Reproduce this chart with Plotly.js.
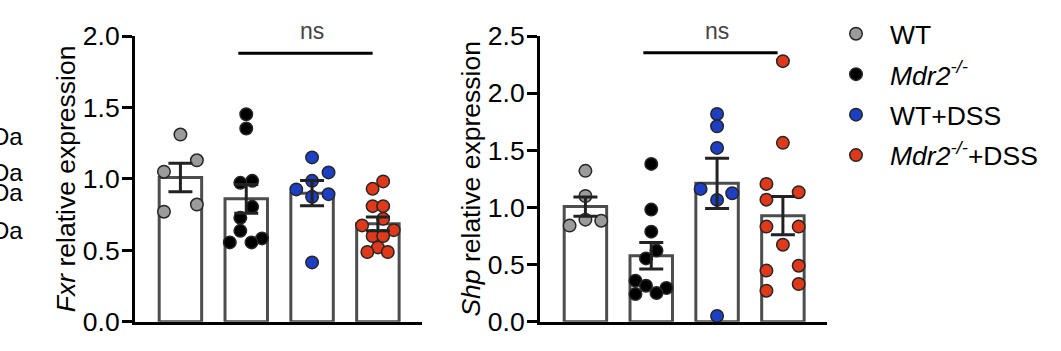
<!DOCTYPE html>
<html>
<head>
<meta charset="utf-8">
<script src="https://cdn.plot.ly/plotly-3.0.1.min.js"></script>
<style>html,body{margin:0;padding:0;background:#fff;}#chart{width:1061px;height:351px;}</style>
</head>
<body>
<div id="chart"></div>
<script>
// ---- data ----
const groups = ['WT', '<i>Mdr2</i><sup><i>-/-</i></sup>', 'WT+DSS', '<i>Mdr2</i><sup><i>-/-</i></sup>+DSS'];
const groupPos = [0, 1, 2, 3];

// Fxr panel
const fxrMean = [1.01, 0.86, 0.90, 0.685];
const fxrSem  = [0.10, 0.10, 0.088, 0.048];
const fxrWT        = [1.31, 1.13, 1.05, 0.82, 0.77];
const fxrWTOff     = [0, 0.25, -0.25, 0.25, -0.25];
const fxrMdr2      = [1.452, 1.352, 0.986, 0.972, 0.804, 0.727, 0.636, 0.583, 0.555, 0.555];
const fxrMdr2Off   = [0, 0, 0.09, -0.09, 0.09, -0.09, -0.09, 0.24, 0.08, -0.25];
const fxrDss       = [1.15, 1.045, 0.986, 0.926, 0.893, 0.874, 0.415];
const fxrDssOff    = [0, 0.25, 0, -0.24, 0.25, 0, 0];
const fxrMdr2Dss   = [0.982, 0.93, 0.809, 0.809, 0.72, 0.674, 0.641, 0.6, 0.6, 0.52, 0.488, 0.488];
const fxrMdr2DssOff= [0.08, -0.08, -0.08, 0.08, 0.08, -0.24, 0.24, -0.08, 0.08, 0, -0.16, 0.15];

// Shp panel
const shpMean = [1.007, 0.578, 1.211, 0.928];
const shpSem  = [0.085, 0.116, 0.22, 0.167];
const shpWT        = [1.32, 1.10, 0.893, 0.884, 0.841];
const shpWTOff     = [0, 0, 0, 0.24, -0.24];
const shpMdr2      = [1.381, 0.981, 0.788, 0.622, 0.554, 0.359, 0.315, 0.295, 0.251, 0.243];
const shpMdr2Off   = [0, 0, 0, 0.08, -0.08, -0.24, -0.08, 0.23, 0.08, -0.24];
const shpDss       = [1.818, 1.71, 1.521, 1.162, 1.124, 1.066, 0.05];
const shpDssOff    = [0, 0, 0, -0.25, 0.23, 0, 0];
const shpMdr2Dss   = [2.28, 1.565, 1.206, 1.133, 1.068, 0.832, 0.832, 0.674, 0.49, 0.447, 0.33, 0.271];
const shpMdr2DssOff= [0, 0, -0.25, 0.24, -0.25, -0.25, 0.24, 0, 0.24, -0.25, 0.24, -0.25];

const sigLabel = 'ns';
const sigFrom = 1, sigTo = 3; // Mdr2 vs Mdr2+DSS (0-based group index)
const sigLevel = {fxr: 1.88, shp: 2.353};
const sideLabels = ['Da', 'Da', 'Da', 'Da'];

// ---- styles ----
const FONT = 'Liberation Sans, Arial, Helvetica, sans-serif';
const fills = ['#9b9b9b', '#000000', '#1c3fc6', '#e0391a'];
const outline = '#262626';

function pointTraces(vals, offs, xa, ya, legend) {
  return vals.map((v, i) => ({
    type: 'scatter', mode: 'markers',
    x: v.map((_, j) => groupPos[i] + offs[i][j]), y: v,
    xaxis: xa, yaxis: ya, name: groups[i], legendgroup: 'g' + i,
    showlegend: legend, cliponaxis: false,
    marker: {size: 12.5, color: fills[i], line: {color: outline, width: 1.5}},
    hoverinfo: 'skip'
  }));
}
function barTrace(means, xa, ya) {
  return {type: 'bar', x: groupPos, y: means, xaxis: xa, yaxis: ya, width: 0.645,
    marker: {color: '#ffffff', line: {color: '#4d4d4d', width: 3}}, showlegend: false, hoverinfo: 'skip'};
}
function errTrace(means, sem, xa, ya) {
  return {type: 'scatter', mode: 'markers', x: groupPos, y: means, xaxis: xa, yaxis: ya,
    marker: {opacity: 0, size: 1}, showlegend: false, cliponaxis: false, hoverinfo: 'skip',
    error_y: {type: 'data', array: sem, visible: true, color: '#222', thickness: 3, width: 12}};
}

const data = [
  barTrace(fxrMean, 'x', 'y'),
  barTrace(shpMean, 'x2', 'y2'),
  ...pointTraces([fxrWT, fxrMdr2, fxrDss, fxrMdr2Dss], [fxrWTOff, fxrMdr2Off, fxrDssOff, fxrMdr2DssOff], 'x', 'y', true),
  ...pointTraces([shpWT, shpMdr2, shpDss, shpMdr2Dss], [shpWTOff, shpMdr2Off, shpDssOff, shpMdr2DssOff], 'x2', 'y2', false),
  errTrace(fxrMean, fxrSem, 'x', 'y'),
  errTrace(shpMean, shpSem, 'x2', 'y2')
];

const W = 1061, H = 351;
const yDom = [29.3 / H, 315 / H];
const xCommon = {range: [-0.69, 3.67], showline: true, linecolor: '#000', linewidth: 3,
  showticklabels: false, ticks: '', showgrid: false, zeroline: false, fixedrange: true};
const yCommon = {showline: true, linecolor: '#000', linewidth: 3, ticks: 'outside', ticklen: 10,
  tickwidth: 3, tickcolor: '#000', dtick: 0.5, tickformat: '.1f', showgrid: false, zeroline: false,
  ticklabelstandoff: -3,
  tickfont: {family: FONT, size: 26.5, color: '#000'}, domain: yDom, fixedrange: true};

const ann = [];
['x', 'x2'].forEach(xr => {
  ann.push({xref: xr, yref: 'paper', x: (groupPos[sigFrom] + groupPos[sigTo]) / 2, y: 1 - 31 / H, text: sigLabel,
    showarrow: false, xanchor: 'center', yanchor: 'middle', font: {family: FONT, size: 23, color: '#444'}});
});
const daY = [136, 172, 192, 230];
sideLabels.forEach((t, i) => ann.push({xref: 'paper', yref: 'paper', x: 25 / W, y: 1 - daY[i] / H,
  text: t, showarrow: false, xanchor: 'right', yanchor: 'middle', font: {family: FONT, size: 24, color: '#000'}}));

const shapes = [
  {type: 'line', xref: 'x', yref: 'y', x0: 0.88, x1: 2.92, y0: sigLevel.fxr, y1: sigLevel.fxr, line: {color: '#000', width: 3}},
  {type: 'line', xref: 'x2', yref: 'y2', x0: 0.88, x1: 2.92, y0: sigLevel.shp, y1: sigLevel.shp, line: {color: '#000', width: 3}}
];

const layout = {
  width: W, height: H, margin: {l: 0, r: 0, t: 0, b: 0}, paper_bgcolor: '#fff', plot_bgcolor: 'rgba(0,0,0,0)',
  font: {family: FONT, color: '#000'}, bargap: 0,
  xaxis: Object.assign({}, xCommon, {domain: [135 / W, 422 / W], anchor: 'y'}),
  xaxis2: Object.assign({}, xCommon, {domain: [540 / W, 827 / W], anchor: 'y2'}),
  yaxis: Object.assign({}, yCommon, {range: [0, 2], anchor: 'x',
    title: {text: '<i>Fxr</i> relative expression', font: {family: FONT, size: 26.5, color: '#000'}, standoff: 0}}),
  yaxis2: Object.assign({}, yCommon, {range: [0, 2.5], anchor: 'x2',
    title: {text: '<i>Shp</i> relative expression', font: {family: FONT, size: 26.5, color: '#000'}, standoff: 0}}),
  showlegend: true,
  legend: {x: 822 / W, y: 1 - 10 / H, xanchor: 'left', yanchor: 'top', bgcolor: 'rgba(0,0,0,0)',
    font: {family: FONT, size: 26.5, color: '#000'}, tracegroupgap: 3, itemwidth: 58},
  annotations: ann, shapes: shapes
};

Plotly.newPlot('chart', data, layout, {staticPlot: true, displayModeBar: false});
</script>
</body>
</html>
